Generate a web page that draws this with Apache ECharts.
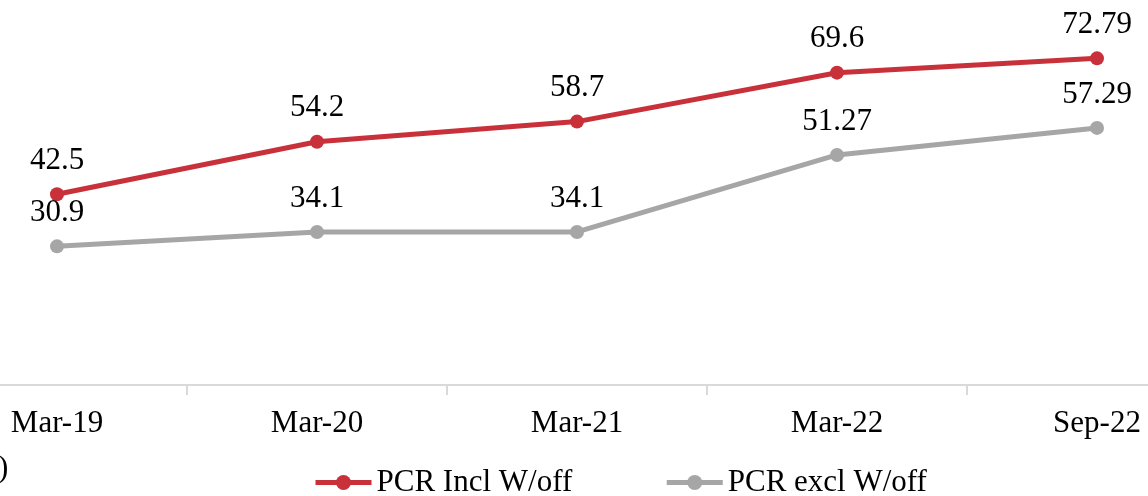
<!DOCTYPE html>
<html lang="en">
<head>
    <meta charset="UTF-8">
    <title>PCR</title>
    <script src="https://cdn.jsdelivr.net/npm/echarts@6/dist/echarts.min.js"></script>
    <style>
        html, body {
            margin: 0;
            padding: 0;
            background: #fff;
        }
    </style>
</head>
<body style="overflow: hidden">
<div id="main" style="width: 1148px;height: 496px"></div>
<script>
    var categories = ['Mar-19', 'Mar-20', 'Mar-21', 'Mar-22', 'Sep-22'];
    var pcrIncl = [42.5, 54.2, 58.7, 69.6, 72.79];
    var pcrExcl = [30.9, 34.1, 34.1, 51.27, 57.29];

    var font = 'Liberation Serif, Times New Roman, serif';

    var myChart = echarts.init(document.getElementById('main'));
    myChart.setOption({
        animation: false,
        textStyle: {fontFamily: font},
        grid: {left: -73, right: -79, top: 26, bottom: 111, outerBoundsMode: 'none', containLabel: false},
        legend: {
            left: 313,
            top: 467,
            padding: 0,
            itemWidth: 56,
            itemHeight: 19,
            itemGap: 92,
            itemStyle: {borderWidth: 0},
            lineStyle: {width: 5},
            textStyle: {fontFamily: font, fontSize: 31, color: '#000'},
            data: ['PCR Incl W/off', 'PCR excl W/off']
        },
        graphic: [{
            type: 'text',
            left: -2,
            top: 453,
            style: {text: ')', fontFamily: font, fontSize: 31, fill: '#000'}
        }],
        xAxis: {
            type: 'category',
            data: categories,
            boundaryGap: true,
            axisLine: {lineStyle: {color: '#d9d9d9', width: 2}},
            axisTick: {show: true, length: 10, lineStyle: {color: '#d9d9d9', width: 2}},
            axisLabel: {fontFamily: font, fontSize: 31, color: '#000', margin: 23}
        },
        yAxis: {
            type: 'value',
            min: 0,
            max: 80,
            show: false,
            splitLine: {show: false}
        },
        series: [
            {
                name: 'PCR Incl W/off',
                type: 'line',
                data: pcrIncl,
                color: '#c8313a',
                symbol: 'circle',
                symbolSize: 14,
                lineStyle: {width: 5},
                label: {show: true, position: 'top', distance: 11, fontFamily: font, fontSize: 31, color: '#000'}
            },
            {
                name: 'PCR excl W/off',
                type: 'line',
                data: pcrExcl,
                color: '#a6a6a6',
                symbol: 'circle',
                symbolSize: 14,
                lineStyle: {width: 5},
                label: {show: true, position: 'top', distance: 11, fontFamily: font, fontSize: 31, color: '#000'}
            }
        ]
    });
</script>
</body>
</html>
